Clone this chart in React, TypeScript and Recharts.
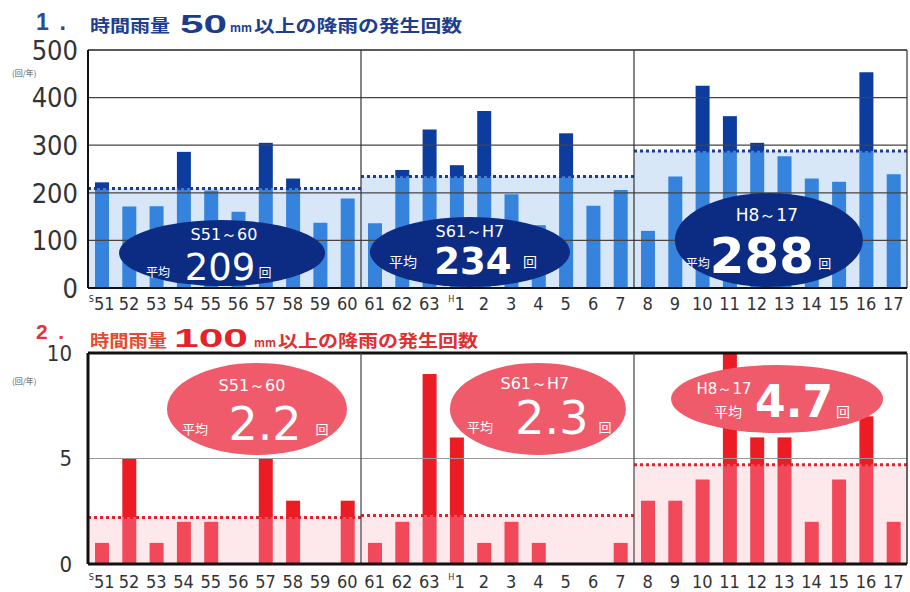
import React from 'react';
import { BarChart, Bar, XAxis, YAxis, ReferenceLine, ReferenceArea, ReferenceDot } from 'recharts';

// ---- data ----
const xLabels = ['51','52','53','54','55','56','57','58','59','60','61','62','63','1','2','3','4','5','6','7','8','9','10','11','12','13','14','15','16','17'];
const eraStarts = [{ index: 0, era: 'S' }, { index: 13, era: 'H' }];
const count50 = [222,171,172,286,205,160,305,230,137,188, 136,248,333,258,372,197,132,325,173,206, 120,234,425,361,305,277,230,223,453,239];
const count100 = [1,5,1,2,2,0,5,3,0,3, 1,2,9,6,1,2,1,0,0,1, 3,3,4,10,6,6,2,4,7,2];
const periodLabels = ['S51～60', 'S61～H7', 'H8～17'];
const avg50 = [209, 234, 288];
const avg100 = [2.2, 2.3, 4.7];
const yTicks50 = [0, 100, 200, 300, 400, 500];
const yTicks100 = [0, 5, 10];
const gridLines50 = [100, 200, 300, 400];

const PER = 10;
const rows = xLabels.map((lab, i) => {
  const p = Math.floor(i / PER);
  const v = count50[i];
  const a = avg50[p];
  const w = count100[i];
  const b = avg100[p];
  return { i, lo50: Math.min(v, a), hi50: Math.max(0, v - a), lo100: Math.min(w, b), hi100: Math.max(0, w - b) };
});
const xTicks = xLabels.map((_, i) => i);
const periodRanges = [0, 1, 2].map((p) => [p * PER - 0.5, p * PER + PER - 0.5]);

const NAVY = '#0c2c84';
const BLUE_DARK = '#0b3c9e';
const BLUE_LIGHT = '#3583dc';
const BLUE_SHADE = '#d8e7f8';
const RED_DARK = '#ec1c24';
const RED_LIGHT = '#f2495a';
const RED_SHADE = '#fde9ec';
const PINK = '#ef5b6a';

const XTick = (props: any) => {
  const { x, y, payload, dyBase } = props;
  const idx = payload.value;
  const era = eraStarts.find((e) => e.index === idx);
  return (
    <text x={x} y={y + dyBase} textAnchor="middle" fill="#333" fontFamily="'DejaVu Sans Condensed', 'DejaVu Sans', sans-serif" fontSize={18}>
      {era ? <tspan fontSize={9} dy={-8}>{era.era}</tspan> : null}
      <tspan dy={era ? 8 : 0}>{xLabels[idx]}</tspan>
    </text>
  );
};

const YTick = (props: any) => {
  const { x, y, payload, size } = props;
  return (
    <text x={x} y={y} dy={size * 0.36} textAnchor="end" fill="#333" fontFamily="'Liberation Sans Narrow', 'DejaVu Sans Condensed', sans-serif" fontSize={size}>
      {payload.value}
    </text>
  );
};

type BadgeText = { s: string; dx: number; dy: number; size: number; weight?: number | string; family?: string; len?: number };

const makeBadge = (rx: number, ry: number, fill: string, texts: BadgeText[]) => (props: any) => {
  const { cx, cy } = props;
  return (
    <g>
      <ellipse cx={cx} cy={cy} rx={rx} ry={ry} fill={fill} />
      {texts.map((t, k) => (
        <text key={k} x={cx + t.dx} y={cy + t.dy} textAnchor="middle" fill="#fff" fontSize={t.size} fontWeight={t.weight || 'normal'}
          fontFamily={t.family || "'Noto Sans CJK JP', 'DejaVu Sans', sans-serif"}
          {...(t.len ? { textLength: t.len, lengthAdjust: 'spacingAndGlyphs' } : {})}>{t.s}</text>
      ))}
    </g>
  );
};

const NUMF = "'DejaVu Sans', sans-serif";

const topBadges = [
  { x: 4.41, y: 73.5, shape: makeBadge(103, 33, NAVY, [
    { s: periodLabels[0], dx: 2, dy: -13, size: 16, family: NUMF },
    { s: '平均', dx: -64, dy: 24, size: 12 },
    { s: String(avg50[0]), dx: -2, dy: 27, size: 37, family: NUMF },
    { s: '回', dx: 43, dy: 24, size: 13 },
  ]) },
  { x: 13.49, y: 75.6, shape: makeBadge(100, 35, NAVY, [
    { s: periodLabels[1], dx: 0, dy: -15, size: 16, family: NUMF },
    { s: '平均', dx: -67, dy: 15, size: 14 },
    { s: String(avg50[1]), dx: 3, dy: 22, size: 37, weight: 'bold', family: NUMF },
    { s: '回', dx: 60, dy: 15, size: 14 },
  ]) },
  { x: 24.44, y: 100.8, shape: makeBadge(94, 47, NAVY, [
    { s: periodLabels[2], dx: -2, dy: -19, size: 17, family: NUMF },
    { s: '平均', dx: -71, dy: 28, size: 12 },
    { s: String(avg50[2]), dx: -7, dy: 33, size: 50, weight: 'bold', family: NUMF, len: 104 },
    { s: '回', dx: 56, dy: 28, size: 13 },
  ]) },
];

const bottomBadges = [
  { x: 5.69, y: 7.35, shape: makeBadge(90, 46, PINK, [
    { s: periodLabels[0], dx: -5, dy: -18, size: 16, family: NUMF },
    { s: '平均', dx: -62, dy: 25, size: 13 },
    { s: avg100[0].toFixed(1), dx: 8, dy: 31, size: 46, family: NUMF },
    { s: '回', dx: 65, dy: 25, size: 13 },
  ]) },
  { x: 15.98, y: 7.35, shape: makeBadge(88, 46, PINK, [
    { s: periodLabels[1], dx: -3, dy: -20, size: 16, family: NUMF },
    { s: '平均', dx: -58, dy: 23, size: 13 },
    { s: avg100[1].toFixed(1), dx: 14, dy: 25, size: 46, family: NUMF },
    { s: '回', dx: 67, dy: 23, size: 13 },
  ]) },
  { x: 24.74, y: 7.82, shape: makeBadge(106, 34, PINK, [
    { s: periodLabels[2], dx: -53, dy: -5, size: 15, family: NUMF },
    { s: '平均', dx: -49, dy: 18, size: 14 },
    { s: avg100[2].toFixed(1), dx: 17, dy: 18, size: 44, weight: 'bold', family: NUMF },
    { s: '回', dx: 66, dy: 18, size: 14 },
  ]) },
];

const JP = "'Noto Sans CJK JP', sans-serif";

export default function App() {
  return (
    <div style={{ position: 'absolute', left: 0, top: 0, width: 910, height: 592, background: '#fff', overflow: 'hidden' }}>
      <div style={{ position: 'absolute', left: 0, top: 0 }}>
        <BarChart width={910} height={318} data={rows} margin={{ top: 50, right: 3, left: 0, bottom: 8 }} barSize={14}>
          <XAxis type="number" dataKey="i" domain={[-0.5, 29.5]} allowDataOverflow ticks={xTicks} interval={0}
            tick={<XTick dyBase={20} />} tickLine={false} tickSize={0} axisLine={{ stroke: '#111', strokeWidth: 2 }} height={22} />
          <YAxis type="number" domain={[0, 500]} allowDataOverflow ticks={yTicks50} interval={0} width={88}
            tick={<YTick size={27} />} tickLine={false} tickSize={8} axisLine={{ stroke: '#111', strokeWidth: 2 }} />
          {periodRanges.map((r, p) => (
            <ReferenceArea key={'a' + p} x1={r[0]} x2={r[1]} y1={0} y2={avg50[p]} fill={BLUE_SHADE} fillOpacity={1} stroke="none" />
          ))}
          {gridLines50.map((g) => (
            <ReferenceLine key={'g' + g} y={g} stroke="#444" strokeWidth={1.2} />
          ))}
          <ReferenceLine y={500} stroke="#222" strokeWidth={1.5} />
          {periodRanges.map((r, p) => (
            <ReferenceLine key={'m' + p} segment={[{ x: r[0], y: avg50[p] }, { x: r[1], y: avg50[p] }]} stroke="#1a3c98" strokeWidth={3} strokeDasharray="3 3" />
          ))}
          <Bar dataKey="lo50" stackId="s" fill={BLUE_LIGHT} isAnimationActive={false} />
          <Bar dataKey="hi50" stackId="s" fill={BLUE_DARK} isAnimationActive={false} />
          <ReferenceLine x={9.5} stroke="#333" strokeWidth={1.2} />
          <ReferenceLine x={19.5} stroke="#333" strokeWidth={1.2} />
          <ReferenceLine x={29.5} stroke="#333" strokeWidth={1.2} />
          {topBadges.map((b, k) => (
            <ReferenceDot key={'b' + k} x={b.x} y={b.y} r={1} shape={b.shape} ifOverflow="visible" />
          ))}
        </BarChart>
      </div>
      <div style={{ position: 'absolute', left: 0, top: 310 }}>
        <BarChart width={910} height={282} data={rows} margin={{ top: 43, right: 3, left: 0, bottom: 0 }} barSize={14}>
          <XAxis type="number" dataKey="i" domain={[-0.5, 29.5]} allowDataOverflow ticks={xTicks} interval={0}
            tick={<XTick dyBase={22} />} tickLine={false} tickSize={0} axisLine={{ stroke: '#111', strokeWidth: 3 }} height={28} />
          <YAxis type="number" domain={[0, 10]} allowDataOverflow ticks={yTicks100} interval={0} width={88}
            tick={<YTick size={22} />} tickLine={false} tickSize={14} axisLine={{ stroke: '#111', strokeWidth: 3 }} />
          {periodRanges.map((r, p) => (
            <ReferenceArea key={'a' + p} x1={r[0]} x2={r[1]} y1={0} y2={avg100[p]} fill={RED_SHADE} fillOpacity={1} stroke="none" />
          ))}
          <ReferenceLine y={5} stroke="#999" strokeWidth={1.2} />
          <ReferenceLine y={10} stroke="#111" strokeWidth={3} />
          {periodRanges.map((r, p) => (
            <ReferenceLine key={'m' + p} segment={[{ x: r[0], y: avg100[p] }, { x: r[1], y: avg100[p] }]} stroke="#e3202c" strokeWidth={3} strokeDasharray="3 3" />
          ))}
          <Bar dataKey="lo100" stackId="s" fill={RED_LIGHT} isAnimationActive={false} />
          <Bar dataKey="hi100" stackId="s" fill={RED_DARK} isAnimationActive={false} />
          <ReferenceLine x={9.5} stroke="#444" strokeWidth={1.2} />
          <ReferenceLine x={19.5} stroke="#444" strokeWidth={1.2} />
          <ReferenceLine x={29.5} stroke="#333" strokeWidth={1.5} />
          {bottomBadges.map((b, k) => (
            <ReferenceDot key={'b' + k} x={b.x} y={b.y} r={1} shape={b.shape} ifOverflow="visible" />
          ))}
        </BarChart>
      </div>
      <svg width={910} height={592} style={{ position: 'absolute', left: 0, top: 0, pointerEvents: 'none' }}>
        <text x={36} y={30} fontSize={23} fontWeight="bold" fill="#2a4a9c" fontFamily="'Liberation Sans', sans-serif" textLength={30} lengthAdjust="spacing">1.</text>
        <text x={90} y={32} fontSize={17} fontWeight="bold" fill="#203e8e" fontFamily={JP} textLength={80} lengthAdjust="spacingAndGlyphs">時間雨量</text>
        <text x={180} y={33} fontSize={26} fontWeight="bold" fill="#1c3c8c" fontFamily="'Liberation Sans', sans-serif" textLength={47} lengthAdjust="spacingAndGlyphs">50</text>
        <text x={230} y={32} fontSize={12} fontWeight="bold" fill="#203e8e" fontFamily={JP} textLength={22} lengthAdjust="spacingAndGlyphs">mm</text>
        <text x={254} y={32} fontSize={17} fontWeight="bold" fill="#203e8e" fontFamily={JP} textLength={208} lengthAdjust="spacingAndGlyphs">以上の降雨の発生回数</text>
        <text x={12} y={76} fontSize={8} fill="#555" fontFamily={JP}>(回/年)</text>

        <text x={36} y={339} fontSize={21} fontWeight="bold" fill="#e8303a" fontFamily="'Liberation Sans', sans-serif" textLength={28} lengthAdjust="spacing">2.</text>
        <text x={90} y={347} fontSize={17} fontWeight="bold" fill="#e64a2e" fontFamily={JP} textLength={77} lengthAdjust="spacingAndGlyphs">時間雨量</text>
        <text x={174} y={347} fontSize={26} fontWeight="bold" fill="#e8202a" fontFamily="'Liberation Sans', sans-serif" textLength={74} lengthAdjust="spacingAndGlyphs">100</text>
        <text x={254} y={347} fontSize={12} fontWeight="bold" fill="#e03030" fontFamily={JP} textLength={22} lengthAdjust="spacingAndGlyphs">mm</text>
        <text x={278} y={347} fontSize={17} fontWeight="bold" fill="#e03030" fontFamily={JP} textLength={200} lengthAdjust="spacingAndGlyphs">以上の降雨の発生回数</text>
        <text x={12} y={384} fontSize={8} fill="#555" fontFamily={JP}>(回/年)</text>
      </svg>
    </div>
  );
}
